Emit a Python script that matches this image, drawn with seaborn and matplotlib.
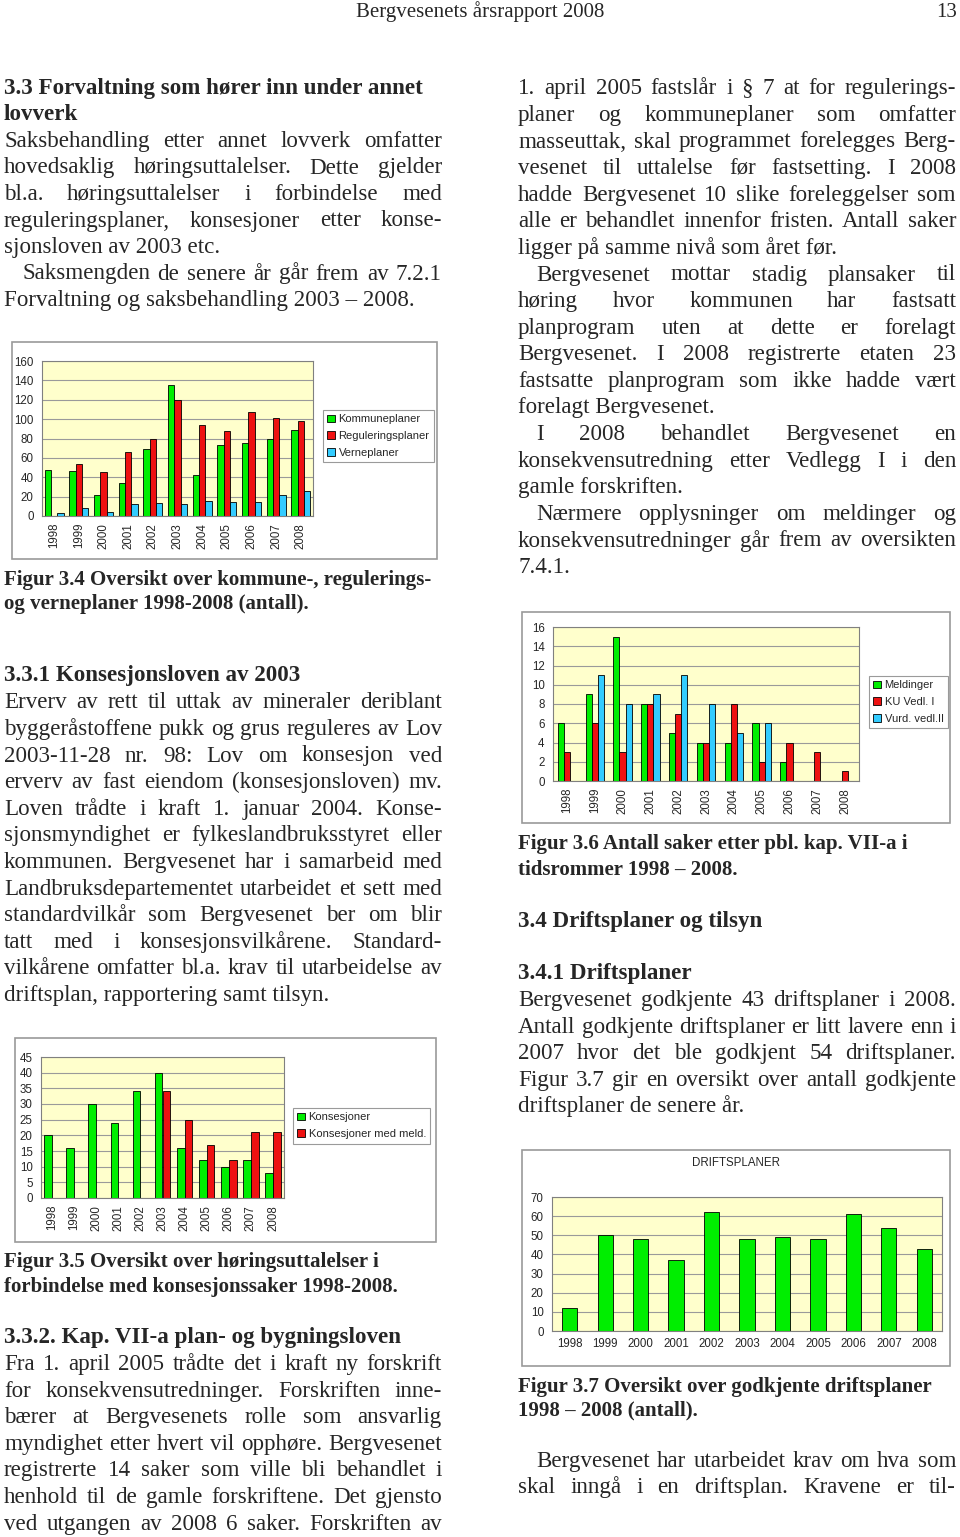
import numpy as np
import pandas as pd
import matplotlib
matplotlib.use('Agg')
import matplotlib.pyplot as plt
import matplotlib.patches as mpatches
import seaborn as sns

# ==========================================
# DATA
# ==========================================

aar = ['1998', '1999', '2000', '2001', '2002', '2003',
       '2004', '2005', '2006', '2007', '2008']

# Figur 3.4
kommuneplaner = [47, 46, 22, 34, 69, 135, 42, 73, 75, 79, 89]
reguleringsplaner = [0, 54, 45, 66, 80, 120, 94, 88, 107, 101, 98]
verneplaner = [3, 8, 4, 12, 13, 12, 16, 14, 14, 22, 26]

# Figur 3.5
konsesjoner = [20, 16, 30, 24, 34, 40, 16, 12, 10, 12, 8]
konsesjoner_meld = [0, 0, 0, 0, 0, 34, 25, 17, 12, 21, 21]

# Figur 3.6
meldinger = [6, 9, 15, 8, 5, 4, 4, 6, 2, 0, 0]
ku_vedl_1 = [3, 6, 3, 8, 7, 4, 8, 2, 4, 3, 1]
vurd_vedl_2 = [0, 11, 8, 9, 11, 8, 5, 6, 0, 0, 0]

# Figur 3.7
driftsplaner = [12, 50, 48, 37, 62, 48, 49, 48, 61, 54, 43]

# ==========================================
# TEKST
# ==========================================

venstre_1 = [
    ('3.3 Forvaltning som hører inn under annet', 'h'),
    ('lovverk', 'h'),
    ('Saksbehandling etter annet lovverk omfatter', 'j'),
    ('hovedsaklig høringsuttalelser. Dette gjelder', 'j'),
    ('bl.a. høringsuttalelser i forbindelse med', 'j'),
    ('reguleringsplaner, konsesjoner etter konse-', 'j'),
    ('sjonsloven av 2003 etc.', 'l'),
    ('Saksmengden de senere år går frem av 7.2.1', 'ij'),
    ('Forvaltning og saksbehandling 2003 – 2008.', 'l'),
]
figur_34 = ['Figur 3.4 Oversikt over kommune-, regulerings-',
            'og verneplaner 1998-2008 (antall).']
venstre_2 = [
    ('Erverv av rett til uttak av mineraler deriblant', 'j'),
    ('byggeråstoffene pukk og grus reguleres av Lov', 'j'),
    ('2003-11-28 nr. 98: Lov om konsesjon ved', 'j'),
    ('erverv av fast eiendom (konsesjonsloven) mv.', 'j'),
    ('Loven trådte i kraft 1. januar 2004. Konse-', 'j'),
    ('sjonsmyndighet er fylkeslandbruksstyret eller', 'j'),
    ('kommunen. Bergvesenet har i samarbeid med', 'j'),
    ('Landbruksdepartementet utarbeidet et sett med', 'j'),
    ('standardvilkår som Bergvesenet ber om blir', 'j'),
    ('tatt med i konsesjonsvilkårene. Standard-', 'j'),
    ('vilkårene omfatter bl.a. krav til utarbeidelse av', 'j'),
    ('driftsplan, rapportering samt tilsyn.', 'l'),
]
figur_35 = ['Figur 3.5 Oversikt over høringsuttalelser i',
            'forbindelse med konsesjonssaker 1998-2008.']
venstre_3 = [
    ('Fra 1. april 2005 trådte det i kraft ny forskrift', 'j'),
    ('for konsekvensutredninger.  Forskriften inne-', 'j'),
    ('bærer at Bergvesenets rolle som ansvarlig', 'j'),
    ('myndighet etter hvert vil opphøre. Bergvesenet', 'j'),
    ('registrerte 14 saker som ville bli behandlet i', 'j'),
    ('henhold til de gamle forskriftene. Det gjensto', 'j'),
    ('ved utgangen av 2008 6 saker.  Forskriften av', 'j'),
]
hoyre_1 = [
    ('1. april 2005 fastslår i § 7 at for regulerings-', 'j'),
    ('planer og kommuneplaner som omfatter', 'j'),
    ('masseuttak, skal programmet forelegges Berg-', 'j'),
    ('vesenet til uttalelse før fastsetting.  I 2008', 'j'),
    ('hadde Bergvesenet 10 slike foreleggelser som', 'j'),
    ('alle er behandlet innenfor fristen. Antall saker', 'j'),
    ('ligger på samme nivå som året før.', 'l'),
    ('Bergvesenet mottar stadig plansaker til', 'ij'),
    ('høring hvor kommunen har fastsatt', 'j'),
    ('planprogram uten at dette er forelagt', 'j'),
    ('Bergvesenet. I 2008 registrerte etaten 23', 'j'),
    ('fastsatte planprogram som ikke hadde vært', 'j'),
    ('forelagt Bergvesenet.', 'l'),
    ('I 2008 behandlet Bergvesenet en', 'ij'),
    ('konsekvensutredning etter Vedlegg I i den', 'j'),
    ('gamle forskriften.', 'l'),
    ('Nærmere opplysninger om meldinger og', 'ij'),
    ('konsekvensutredninger går frem av oversikten', 'j'),
    ('7.4.1.', 'l'),
]
figur_36 = ['Figur 3.6 Antall saker etter pbl. kap. VII-a i',
            'tidsrommer 1998 – 2008.']
hoyre_2 = [
    ('Bergvesenet godkjente 43 driftsplaner i 2008.', 'j'),
    ('Antall godkjente driftsplaner er litt lavere enn i', 'j'),
    ('2007 hvor det ble godkjent 54 driftsplaner.', 'j'),
    ('Figur 3.7 gir en oversikt over antall godkjente', 'j'),
    ('driftsplaner de senere år.', 'l'),
]
figur_37 = ['Figur 3.7 Oversikt over godkjente driftsplaner',
            '1998 – 2008 (antall).']
hoyre_3 = [
    ('Bergvesenet har utarbeidet krav om hva som', 'ij'),
    ('skal inngå i en driftsplan. Kravene er til-', 'j'),
]

# ==========================================
# OPPSETT
# ==========================================

W, H = 960, 1537
GRONN = '#00ee00'
ROD = '#ee1111'
BLA = '#33ccff'
BAKGRUNN = '#ffffcc'
SERIF = 'Liberation Serif'
BRODTEKST = 16.6
FIGURTEKST = 15

sns.set_style('white')
plt.rcParams['font.family'] = ['Liberation Sans', 'DejaVu Sans']

fig = plt.figure(figsize=(W / 100, H / 100), dpi=100)
renderer = fig.canvas.get_renderer()


def fx(px):
    return px / W


def fy(py):
    return 1 - py / H


def linje(tekst, x0, x1, y, bold=False, justert=False, size=BRODTEKST):
    kw = dict(fontsize=size, family=SERIF, va='baseline', ha='left',
              fontweight='bold' if bold else 'normal')
    ord_ = tekst.split()
    if not justert or len(ord_) < 2:
        fig.text(fx(x0), fy(y), tekst, **kw)
        return
    # blokkjustering: ordene fordeles mellom x0 og x1
    objs = [fig.text(0, fy(y), o, **kw) for o in ord_]
    bredder = [o.get_window_extent(renderer).width for o in objs]
    mellom = (x1 - x0 - sum(bredder)) / (len(ord_) - 1)
    x = x0
    for o, b in zip(objs, bredder):
        o.set_x(fx(x))
        x += b + mellom


def blokk(linjer, x0, x1, y0, steg):
    for i, (tekst, stil) in enumerate(linjer):
        y = y0 + i * steg
        inn = 18 if stil.startswith('i') else 0
        linje(tekst, x0 + inn, x1, y, bold=(stil == 'h'), justert=stil.endswith('j'))


def figurtekst(linjer, x0, y0, steg):
    for i, tekst in enumerate(linjer):
        linje(tekst, x0, None, y0 + i * steg, bold=True, size=FIGURTEKST)


def diagram(ramme, omrade, tabell, farger, bredde, ytopp, ysteg,
            roter=True, legende=None, tittel=None):
    x0, y0, x1, y1 = ramme
    fig.patches.append(mpatches.Rectangle(
        (fx(x0), fy(y1)), (x1 - x0) / W, (y1 - y0) / H,
        transform=fig.transFigure, fill=False, edgecolor='#9a9a9a', lw=1.2))
    l, t, r, b = omrade
    ax = fig.add_axes([fx(l), fy(b), (r - l) / W, (b - t) / H])
    ax.set_facecolor(BAKGRUNN)
    ax.set_axisbelow(True)
    if tabell['serie'].nunique() > 1:
        sns.barplot(data=tabell, x='aar', y='antall', hue='serie',
                    palette=farger, width=bredde, saturation=1,
                    edgecolor='black', linewidth=0.6, legend=False, ax=ax)
    else:
        sns.barplot(data=tabell, x='aar', y='antall', color=farger[0],
                    width=bredde, saturation=1,
                    edgecolor='black', linewidth=0.6, ax=ax)
    ax.set_xlim(-0.5, len(aar) - 0.5)
    ax.set_ylim(0, ytopp)
    ax.set_yticks(np.arange(0, ytopp + 1, ysteg))
    ax.yaxis.grid(True, color='#9a9a9a', lw=0.8)
    ax.xaxis.grid(False)
    ax.set_xlabel('')
    ax.set_ylabel('')
    ax.set_xticks(np.arange(-0.5, len(aar), 1), minor=True)
    ax.tick_params(axis='x', which='major', length=0, pad=5,
                   labelsize=8.3, labelrotation=90 if roter else 0)
    ax.tick_params(axis='x', which='minor', length=4, color='#808080')
    ax.tick_params(axis='y', length=3, color='#808080', labelsize=8.3, pad=3)
    for s in ax.spines.values():
        s.set_color('#808080')
        s.set_linewidth(0.8)
    if legende is not None:
        handles = [mpatches.Patch(facecolor=c, edgecolor='black', lw=0.6)
                   for c in farger]
        lx, ly = legende
        leg = ax.legend(handles, list(tabell['serie'].unique()),
                        loc='upper left', bbox_to_anchor=(fx(lx), fy(ly)),
                        bbox_transform=fig.transFigure, borderaxespad=0,
                        fontsize=8, frameon=True, fancybox=False,
                        framealpha=1, edgecolor='#9a9a9a',
                        handlelength=0.7, handleheight=0.7,
                        handletextpad=0.3, labelspacing=0.6, borderpad=0.4)
        leg.get_frame().set_linewidth(0.8)
    if tittel:
        fig.text(fx((x0 + x1) / 2), fy(t - 34), tittel, ha='center',
                 va='center', fontsize=8.3)
    return ax


def lang_tabell(serier):
    df = pd.DataFrame({'aar': aar, **serier})
    return df.melt(id_vars='aar', var_name='serie', value_name='antall')


# ==========================================
# TOPPTEKST
# ==========================================

fig.text(0.5, fy(17), 'Bergvesenets årsrapport 2008', ha='center',
         va='baseline', family=SERIF, fontsize=15)
fig.text(fx(957), fy(17), '13', ha='right', va='baseline',
         family=SERIF, fontsize=15)

# ==========================================
# VENSTRE SPALTE
# ==========================================

VX0, VX1 = 4, 442
blokk(venstre_1, VX0, VX1, 94, 26.5)
figurtekst(figur_34, VX0, 585, 24)
linje('3.3.1 Konsesjonsloven av 2003', VX0, None, 681.5, bold=True)
blokk(venstre_2, VX0, VX1, 708.3, 26.6)
figurtekst(figur_35, VX0, 1267, 25)
linje('3.3.2. Kap. VII-a plan- og bygningsloven', VX0, None, 1343, bold=True)
blokk(venstre_3, VX0, VX1, 1370, 26.6)

# ==========================================
# HØYRE SPALTE
# ==========================================

HX0, HX1 = 518, 956
blokk(hoyre_1, HX0, HX1, 94.3, 26.6)
figurtekst(figur_36, HX0, 849, 26)
linje('3.4 Driftsplaner og tilsyn', HX0, None, 926.7, bold=True)
linje('3.4.1 Driftsplaner', HX0, None, 979.3, bold=True)
blokk(hoyre_2, HX0, HX1, 1006, 26.6)
figurtekst(figur_37, HX0, 1391.7, 23.5)
blokk(hoyre_3, HX0, HX1, 1466.7, 26.4)

# ==========================================
# DIAGRAMMER
# ==========================================

diagram((12, 342, 437, 559), (42, 361, 313, 516),
        lang_tabell({'Kommuneplaner': kommuneplaner,
                     'Reguleringsplaner': reguleringsplaner,
                     'Verneplaner': verneplaner}),
        [GRONN, ROD, BLA], 0.77, 160, 20, legende=(323, 410))

diagram((522, 612, 950, 823), (553, 627, 859, 781),
        lang_tabell({'Meldinger': meldinger,
                     'KU Vedl. I': ku_vedl_1,
                     'Vurd. vedl.II': vurd_vedl_2}),
        [GRONN, ROD, BLA], 0.66, 16, 2, legende=(869, 676))

diagram((15, 1038, 436, 1242), (41, 1057, 284, 1198),
        lang_tabell({'Konsesjoner': konsesjoner,
                     'Konsesjoner med meld.': konsesjoner_meld}),
        [GRONN, ROD], 0.7, 45, 5, legende=(293, 1108))

diagram((522, 1150, 950, 1366), (552, 1197, 942, 1331),
        lang_tabell({'Driftsplaner': driftsplaner}),
        [GRONN], 0.43, 70, 10, roter=False, tittel='DRIFTSPLANER')

fig.savefig('out.png', dpi=100)
